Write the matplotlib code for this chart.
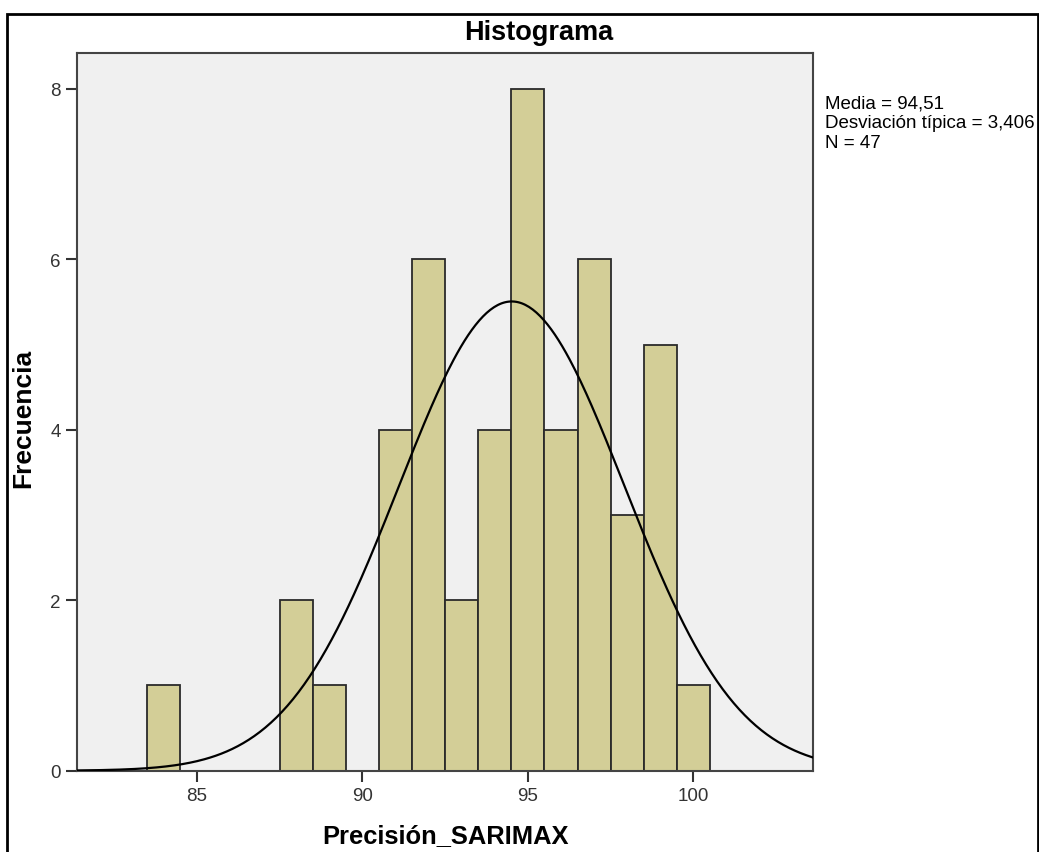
import numpy as np
import matplotlib
matplotlib.use("Agg")
import matplotlib.pyplot as plt
from matplotlib.patches import Rectangle

# Data
bin_centers = [84, 88, 89, 91, 92, 93, 94, 95, 96, 97, 98, 99, 100]
counts = [1, 2, 1, 4, 6, 2, 4, 8, 4, 6, 3, 5, 1]
bin_width = 1.0
mean_val = 94.51
sd_val = 3.406
n_val = 47
x_ticks = [85, 90, 95, 100]
y_ticks = [0, 2, 4, 6, 8]
title = "Histograma"
x_label = "Precisión_SARIMAX"
y_label = "Frecuencia"
stats_text = "Media = 94,51\nDesviación típica = 3,406\nN = 47"

plt.rcParams['font.family'] = ['Liberation Sans', 'DejaVu Sans']

fig = plt.figure(figsize=(10.39, 8.53), dpi=100)
ax = fig.add_axes([0.0744, 0.0953, 0.7081, 0.8414])
ax.set_facecolor('#f0f0f0')

ax.bar(bin_centers, counts, width=bin_width, color='#d3ce97',
       edgecolor='#2a2a2a', linewidth=1.3, zorder=2)

xs = np.linspace(81.39, 103.61, 400)
ys = n_val * bin_width / (sd_val * np.sqrt(2 * np.pi)) * np.exp(-0.5 * ((xs - mean_val) / sd_val) ** 2)
ax.plot(xs, ys, color='black', linewidth=1.6, zorder=3)

ax.set_xlim(81.39, 103.61)
ax.set_ylim(0, 8.42)
ax.set_xticks(x_ticks)
ax.set_yticks(y_ticks)
ax.tick_params(direction='out', length=8, width=1.5, color='#333333',
               labelsize=13.5, labelcolor='#333333', pad=4)
for s in ax.spines.values():
    s.set_color('#444444')
    s.set_linewidth(1.5)

fig.text(0.518, 0.961, title, ha='center', va='center', fontsize=19.5, fontweight='bold')
fig.text(0.4283, 0.020, x_label, ha='center', va='center', fontsize=18.4, fontweight='bold')
fig.text(0.0226, 0.509, y_label, ha='center', va='center', rotation=90, fontsize=19, fontweight='bold')
fig.text(0.794, 0.8885, stats_text, ha='left', va='top', fontsize=13.5, linespacing=1.22)

# outer frame
fig.patches.append(Rectangle((7.3 / 1039, -0.05), (1037.5 - 7.3) / 1039, 1.05 - 15 / 853,
                             transform=fig.transFigure, fill=False, edgecolor='black',
                             linewidth=2, clip_on=False))

fig.savefig('out.png', dpi=100)
